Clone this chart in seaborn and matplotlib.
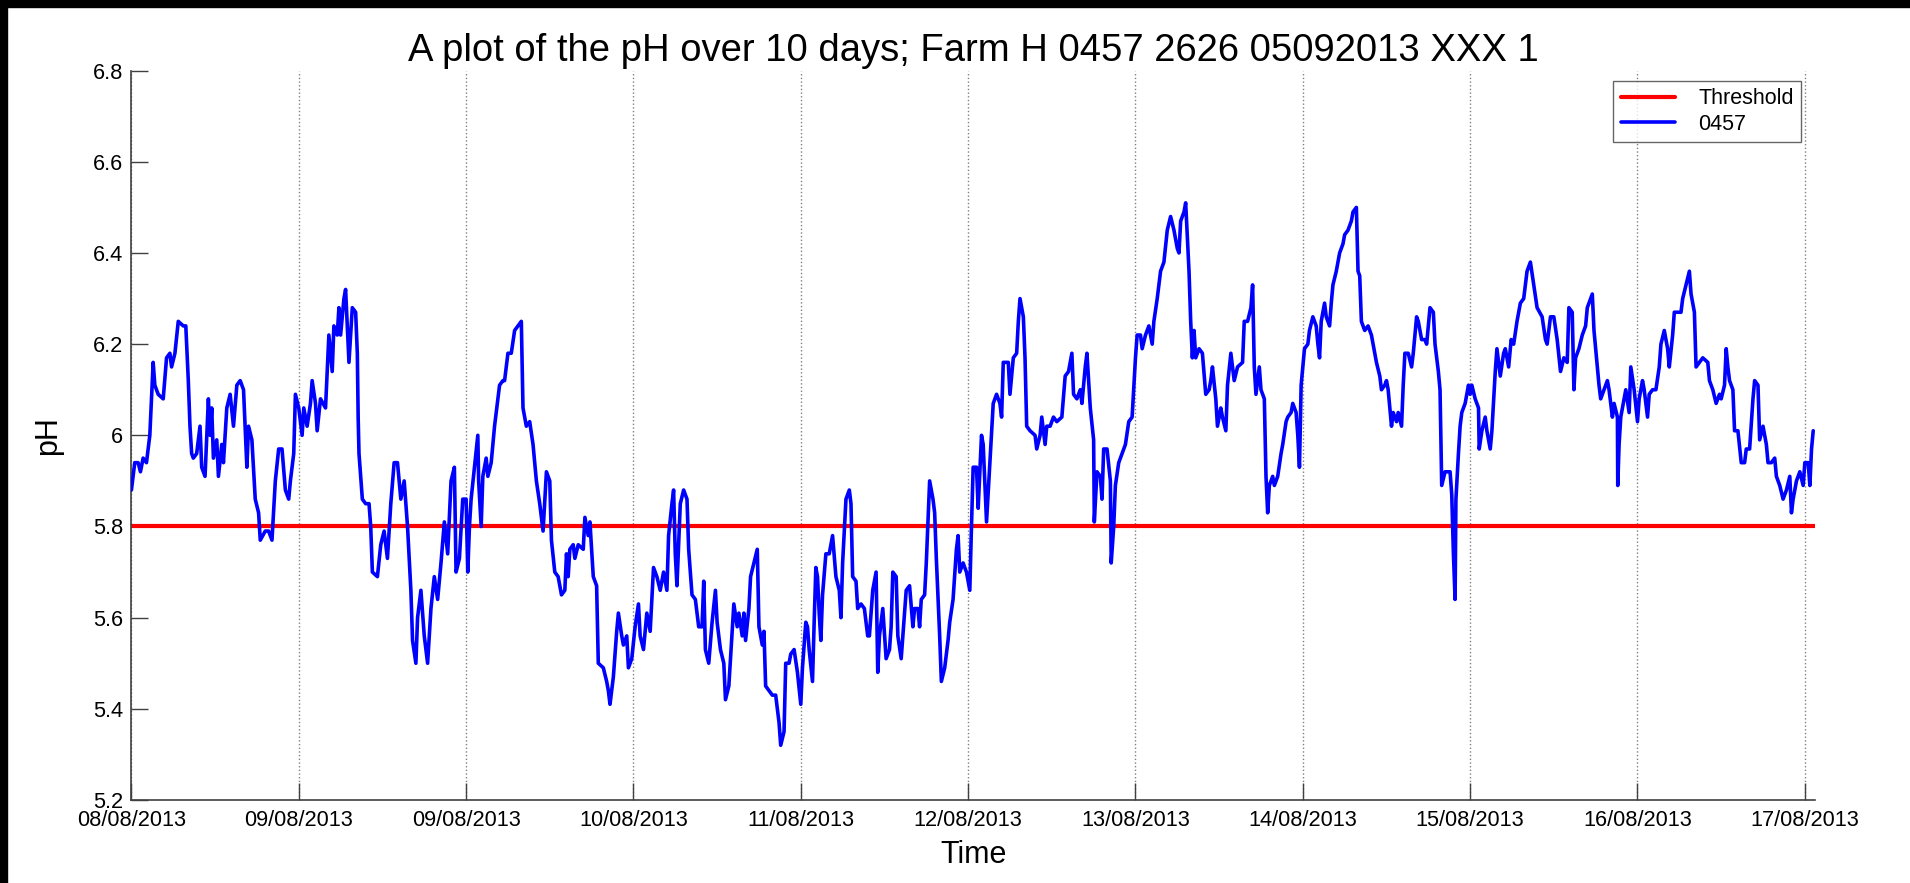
import numpy as np
import pandas as pd
import matplotlib
matplotlib.use("Agg")
import matplotlib.pyplot as plt
import seaborn as sns

# ==========================================================
# data (days since start, pH)
# ==========================================================

seg_1 = [(0.00, 5.88), (0.02, 5.94), (0.04, 5.94), (0.054, 5.92), (0.07, 5.95), (0.09, 5.94),
         (0.11, 6.00), (0.13, 6.16), (0.14, 6.11), (0.16, 6.09), (0.19, 6.08), (0.21, 6.17),
         (0.23, 6.18), (0.24, 6.15), (0.26, 6.18), (0.28, 6.25), (0.31, 6.24), (0.325, 6.24),
         (0.34, 6.12), (0.35, 6.02), (0.36, 5.96), (0.37, 5.95), (0.39, 5.96), (0.41, 6.02),
         (0.42, 5.93), (0.44, 5.91), (0.46, 6.08), (0.47, 6.00), (0.48, 6.06), (0.49, 5.95),
         (0.51, 5.99), (0.52, 5.91), (0.54, 5.98), (0.55, 5.94), (0.57, 6.06), (0.59, 6.09),
         (0.61, 6.02), (0.63, 6.11), (0.65, 6.12), (0.67, 6.10), (0.69, 5.93), (0.70, 6.02),
         (0.72, 5.99), (0.74, 5.86), (0.76, 5.83), (0.77, 5.77), (0.80, 5.79), (0.82, 5.79),
         (0.84, 5.77), (0.86, 5.90), (0.88, 5.97), (0.90, 5.97), (0.92, 5.88), (0.94, 5.86),
         (0.95, 5.90), (0.97, 5.96), (0.98, 6.09), (1.00, 6.06), (1.02, 6.00), (1.03, 6.06),
         (1.05, 6.02), (1.07, 6.07), (1.08, 6.12), (1.10, 6.07), (1.11, 6.01), (1.13, 6.08),
         (1.16, 6.06), (1.17, 6.14), (1.18, 6.22), (1.20, 6.14), (1.21, 6.24), (1.23, 6.22),
         (1.24, 6.28), (1.25, 6.22), (1.27, 6.30), (1.28, 6.32), (1.30, 6.16), (1.32, 6.28),
         (1.34, 6.27), (1.35, 6.18), (1.355, 6.04), (1.36, 5.96), (1.38, 5.86), (1.40, 5.85),
         (1.42, 5.85), (1.43, 5.80), (1.44, 5.70), (1.47, 5.69), (1.49, 5.76), (1.51, 5.79),
         (1.53, 5.73), (1.55, 5.85), (1.57, 5.94), (1.59, 5.94), (1.61, 5.86), (1.63, 5.90),
         (1.65, 5.80), (1.67, 5.66), (1.68, 5.55), (1.70, 5.50), (1.71, 5.60), (1.73, 5.66),
         (1.75, 5.56), (1.77, 5.50), (1.79, 5.62), (1.81, 5.69), (1.83, 5.64), (1.85, 5.72),
         (1.87, 5.81), (1.89, 5.74), (1.91, 5.90), (1.93, 5.93), (1.94, 5.70), (1.96, 5.73),
         (1.98, 5.86)]

seg_2 = [(2.00, 5.86), (2.01, 5.70), (2.02, 5.80), (2.03, 5.86), (2.05, 5.93), (2.07, 6.00),
         (2.075, 5.90), (2.09, 5.80), (2.10, 5.91), (2.12, 5.95), (2.13, 5.91), (2.15, 5.94),
         (2.17, 6.02), (2.18, 6.05), (2.20, 6.11), (2.22, 6.12), (2.23, 6.12), (2.25, 6.18),
         (2.27, 6.18), (2.29, 6.23), (2.31, 6.24), (2.33, 6.25), (2.34, 6.06), (2.36, 6.02),
         (2.38, 6.03), (2.40, 5.98), (2.42, 5.90), (2.44, 5.85), (2.46, 5.79), (2.48, 5.92),
         (2.50, 5.90), (2.51, 5.77), (2.53, 5.70), (2.55, 5.69), (2.57, 5.65), (2.59, 5.66),
         (2.60, 5.74), (2.61, 5.69), (2.62, 5.75), (2.64, 5.76), (2.65, 5.73), (2.67, 5.76),
         (2.70, 5.75), (2.71, 5.82), (2.73, 5.78), (2.74, 5.81), (2.76, 5.69), (2.78, 5.67),
         (2.79, 5.50), (2.82, 5.49), (2.84, 5.46), (2.85, 5.44), (2.86, 5.41), (2.88, 5.47),
         (2.90, 5.57), (2.91, 5.61), (2.93, 5.56), (2.94, 5.54), (2.96, 5.56), (2.97, 5.49),
         (2.99, 5.51), (3.01, 5.58), (3.03, 5.63), (3.04, 5.56), (3.06, 5.53), (3.08, 5.61),
         (3.10, 5.57), (3.12, 5.71), (3.14, 5.69), (3.16, 5.66), (3.18, 5.70), (3.20, 5.66),
         (3.21, 5.78), (3.23, 5.85), (3.24, 5.88), (3.25, 5.74), (3.26, 5.67), (3.28, 5.85),
         (3.30, 5.88), (3.32, 5.86), (3.33, 5.75), (3.35, 5.65), (3.37, 5.64), (3.39, 5.58),
         (3.41, 5.58), (3.42, 5.68), (3.43, 5.53), (3.45, 5.50), (3.47, 5.59), (3.49, 5.66),
         (3.50, 5.59), (3.52, 5.53), (3.54, 5.50), (3.55, 5.42), (3.57, 5.45), (3.58, 5.51),
         (3.60, 5.63), (3.62, 5.58), (3.63, 5.61), (3.65, 5.56), (3.66, 5.61), (3.67, 5.55),
         (3.69, 5.62), (3.70, 5.69), (3.72, 5.72), (3.74, 5.75), (3.75, 5.58), (3.77, 5.54),
         (3.78, 5.57), (3.79, 5.45), (3.81, 5.44), (3.83, 5.43), (3.85, 5.43), (3.87, 5.37),
         (3.88, 5.32), (3.90, 5.35), (3.91, 5.50), (3.93, 5.50), (3.94, 5.52), (3.96, 5.53),
         (3.98, 5.48), (4.00, 5.41)]

seg_3 = [(4.01, 5.49), (4.03, 5.59), (4.04, 5.58), (4.05, 5.53), (4.07, 5.46), (4.08, 5.59),
         (4.09, 5.71), (4.10, 5.69), (4.11, 5.61), (4.12, 5.55), (4.13, 5.65), (4.15, 5.74),
         (4.17, 5.74), (4.19, 5.78), (4.21, 5.69), (4.23, 5.66), (4.24, 5.60), (4.25, 5.72),
         (4.27, 5.86), (4.29, 5.88), (4.30, 5.85), (4.31, 5.69), (4.33, 5.68), (4.34, 5.62),
         (4.36, 5.63), (4.38, 5.62), (4.40, 5.56), (4.41, 5.56), (4.43, 5.66), (4.45, 5.70),
         (4.46, 5.48), (4.47, 5.56), (4.49, 5.62), (4.51, 5.51), (4.53, 5.53), (4.54, 5.58),
         (4.55, 5.70), (4.57, 5.69), (4.58, 5.56), (4.60, 5.51), (4.61, 5.56), (4.63, 5.66),
         (4.65, 5.67), (4.67, 5.58), (4.68, 5.62), (4.70, 5.62), (4.71, 5.58), (4.72, 5.64),
         (4.74, 5.65), (4.75, 5.72), (4.77, 5.90), (4.79, 5.86), (4.80, 5.83), (4.81, 5.73),
         (4.83, 5.56), (4.84, 5.46), (4.86, 5.49), (4.88, 5.55), (4.89, 5.59), (4.91, 5.64),
         (4.93, 5.75), (4.94, 5.78), (4.95, 5.70), (4.97, 5.72), (4.99, 5.70), (5.01, 5.66),
         (5.02, 5.80), (5.03, 5.93), (5.05, 5.93), (5.06, 5.84), (5.08, 6.00), (5.09, 5.98),
         (5.11, 5.81), (5.13, 5.94), (5.15, 6.07), (5.17, 6.09), (5.19, 6.07), (5.20, 6.04),
         (5.21, 6.16), (5.24, 6.16), (5.25, 6.09), (5.27, 6.17), (5.29, 6.18), (5.30, 6.25),
         (5.31, 6.30), (5.33, 6.26), (5.34, 6.17), (5.35, 6.02), (5.37, 6.01), (5.40, 6.00),
         (5.41, 5.97), (5.43, 6.00), (5.44, 6.04), (5.46, 5.98), (5.47, 6.02), (5.49, 6.02),
         (5.51, 6.04), (5.53, 6.03), (5.56, 6.04), (5.58, 6.13), (5.60, 6.14), (5.62, 6.18),
         (5.63, 6.09), (5.65, 6.08), (5.67, 6.10), (5.68, 6.07), (5.70, 6.15), (5.71, 6.18),
         (5.73, 6.06), (5.75, 5.99), (5.754, 5.81), (5.77, 5.92), (5.79, 5.91), (5.80, 5.86),
         (5.81, 5.97), (5.83, 5.97), (5.85, 5.90), (5.855, 5.72), (5.87, 5.80), (5.88, 5.89),
         (5.90, 5.94), (5.92, 5.96), (5.94, 5.98), (5.96, 6.03), (5.98, 6.04), (6.00, 6.17),
         (6.01, 6.22), (6.03, 6.22)]

seg_4 = [(6.04, 6.19), (6.06, 6.22), (6.08, 6.24), (6.10, 6.20), (6.11, 6.25), (6.13, 6.30),
         (6.15, 6.36), (6.17, 6.38), (6.19, 6.45), (6.21, 6.48), (6.23, 6.45), (6.25, 6.41),
         (6.26, 6.40), (6.27, 6.47), (6.29, 6.49), (6.30, 6.51), (6.32, 6.36), (6.33, 6.25),
         (6.34, 6.17), (6.35, 6.23), (6.36, 6.17), (6.38, 6.19), (6.40, 6.18), (6.42, 6.09),
         (6.44, 6.10), (6.45, 6.12), (6.46, 6.15), (6.48, 6.08), (6.49, 6.02), (6.51, 6.06),
         (6.52, 6.04), (6.54, 6.01), (6.55, 6.11), (6.57, 6.18), (6.59, 6.12), (6.61, 6.15),
         (6.64, 6.16), (6.65, 6.25), (6.67, 6.25), (6.69, 6.28), (6.70, 6.33), (6.71, 6.15),
         (6.72, 6.09), (6.74, 6.15), (6.75, 6.10), (6.77, 6.08), (6.78, 5.91), (6.79, 5.83),
         (6.80, 5.89), (6.82, 5.91), (6.83, 5.89), (6.85, 5.91), (6.87, 5.96), (6.88, 5.98),
         (6.90, 6.03), (6.91, 6.04), (6.93, 6.05), (6.94, 6.07), (6.96, 6.05), (6.97, 6.00),
         (6.98, 5.93), (6.99, 6.11), (7.01, 6.19), (7.03, 6.20), (7.04, 6.23), (7.06, 6.26),
         (7.08, 6.24), (7.09, 6.20), (7.10, 6.17), (7.11, 6.25), (7.13, 6.29), (7.14, 6.26),
         (7.16, 6.24), (7.17, 6.29), (7.18, 6.33), (7.20, 6.36), (7.22, 6.40), (7.24, 6.42),
         (7.25, 6.44), (7.27, 6.45), (7.29, 6.47), (7.30, 6.49), (7.32, 6.50), (7.33, 6.36),
         (7.34, 6.35), (7.35, 6.25), (7.37, 6.23), (7.39, 6.24), (7.41, 6.22), (7.42, 6.20),
         (7.44, 6.16), (7.46, 6.13), (7.47, 6.10), (7.49, 6.11), (7.50, 6.12), (7.51, 6.10),
         (7.53, 6.02), (7.54, 6.05), (7.56, 6.03), (7.57, 6.05), (7.59, 6.02), (7.60, 6.11),
         (7.61, 6.18), (7.63, 6.18), (7.65, 6.15), (7.66, 6.18), (7.68, 6.26), (7.69, 6.25),
         (7.71, 6.21), (7.73, 6.21), (7.74, 6.20), (7.76, 6.28), (7.78, 6.27), (7.79, 6.20),
         (7.81, 6.14), (7.82, 6.10), (7.83, 5.89), (7.85, 5.92), (7.86, 5.92), (7.88, 5.92),
         (7.89, 5.87), (7.90, 5.74), (7.91, 5.64), (7.915, 5.86), (7.93, 5.96), (7.94, 6.02),
         (7.95, 6.05), (7.97, 6.07), (7.99, 6.11), (8.00, 6.09)]

seg_5 = [(8.01, 6.11), (8.03, 6.08), (8.05, 6.06), (8.054, 5.97), (8.07, 6.01), (8.09, 6.04),
         (8.10, 6.01), (8.12, 5.97), (8.13, 6.01), (8.15, 6.14), (8.16, 6.19), (8.18, 6.13),
         (8.20, 6.18), (8.21, 6.19), (8.23, 6.15), (8.245, 6.21), (8.26, 6.20), (8.28, 6.25),
         (8.30, 6.29), (8.32, 6.30), (8.34, 6.36), (8.36, 6.38), (8.38, 6.33), (8.40, 6.28),
         (8.43, 6.26), (8.45, 6.21), (8.46, 6.20), (8.48, 6.26), (8.50, 6.26), (8.52, 6.21),
         (8.54, 6.14), (8.56, 6.17), (8.58, 6.16), (8.59, 6.28), (8.61, 6.27), (8.62, 6.10),
         (8.63, 6.17), (8.65, 6.19), (8.67, 6.22), (8.69, 6.24), (8.70, 6.28), (8.73, 6.31),
         (8.74, 6.23), (8.76, 6.15), (8.77, 6.11), (8.78, 6.08), (8.80, 6.10), (8.82, 6.12),
         (8.83, 6.10), (8.85, 6.04), (8.86, 6.07), (8.88, 6.04), (8.882, 5.89), (8.89, 5.98),
         (8.90, 6.04), (8.92, 6.08), (8.93, 6.10), (8.95, 6.05), (8.96, 6.15), (8.98, 6.10),
         (9.00, 6.03), (9.01, 6.08), (9.03, 6.12), (9.04, 6.10), (9.06, 6.04), (9.07, 6.09),
         (9.09, 6.10), (9.11, 6.10), (9.13, 6.15), (9.14, 6.20), (9.16, 6.23), (9.18, 6.19),
         (9.19, 6.15), (9.21, 6.22), (9.22, 6.27), (9.24, 6.27), (9.26, 6.27), (9.27, 6.30),
         (9.29, 6.33), (9.31, 6.36), (9.32, 6.31), (9.34, 6.27), (9.35, 6.15), (9.37, 6.16),
         (9.39, 6.17), (9.42, 6.16), (9.43, 6.12), (9.45, 6.10), (9.47, 6.07), (9.49, 6.09),
         (9.50, 6.08), (9.52, 6.11), (9.53, 6.19), (9.54, 6.15), (9.55, 6.12), (9.57, 6.10),
         (9.58, 6.01), (9.60, 6.01), (9.62, 5.94), (9.64, 5.94), (9.65, 5.97), (9.67, 5.97),
         (9.69, 6.08), (9.70, 6.12), (9.72, 6.11), (9.73, 5.99), (9.75, 6.02), (9.77, 5.98),
         (9.78, 5.94), (9.80, 5.94), (9.82, 5.95), (9.83, 5.91), (9.85, 5.89), (9.87, 5.86),
         (9.89, 5.88), (9.91, 5.91), (9.92, 5.83), (9.93, 5.86), (9.95, 5.90), (9.97, 5.92),
         (9.99, 5.89), (10.00, 5.94), (10.02, 5.94), (10.03, 5.89), (10.04, 5.97), (10.05, 6.01)]

threshold = 5.8

x_tick_labels = ["08/08/2013", "09/08/2013", "09/08/2013", "10/08/2013", "11/08/2013",
                 "12/08/2013", "13/08/2013", "14/08/2013", "15/08/2013", "16/08/2013",
                 "17/08/2013"]
y_ticks = [5.2, 5.4, 5.6, 5.8, 6.0, 6.2, 6.4, 6.6, 6.8]
y_tick_labels = ["5.2", "5.4", "5.6", "5.8", "6", "6.2", "6.4", "6.6", "6.8"]

df = pd.DataFrame(seg_1 + seg_2 + seg_3 + seg_4 + seg_5, columns=["day", "pH"])

# ==========================================================
# plot
# ==========================================================

sns.set_style("white")
plt.rcParams["font.family"] = ["Liberation Sans", "DejaVu Sans"]
plt.rcParams["text.color"] = "black"
plt.rcParams["axes.labelcolor"] = "black"

fig = plt.figure(figsize=(19.1, 8.83), dpi=100)
ax = fig.add_axes([0.0688, 0.094, 0.8814, 0.826])

ax.axhline(threshold, color="#ff0000", linewidth=3.0, label="Threshold", zorder=2)

sns.lineplot(
    data=df,
    x="day",
    y="pH",
    color="#0000ff",
    linewidth=2.6,
    estimator=None,
    sort=False,
    label="0457",
    ax=ax,
    zorder=3
)

ax.set_xlim(0, 10.06)
ax.set_ylim(5.2, 6.8)

ax.set_xticks(range(len(x_tick_labels)))
ax.set_xticklabels(x_tick_labels)
ax.set_yticks(y_ticks)
ax.set_yticklabels(y_tick_labels)

ax.tick_params(direction="in", length=12, width=1, color="#404040",
               labelsize=15.7, labelcolor="black", bottom=True, left=True)
ax.tick_params(axis="x", pad=7)
ax.tick_params(axis="y", pad=6)

ax.grid(axis="x", linestyle=":", color="#808080", linewidth=1)
ax.set_axisbelow(True)

for side in ["top", "right"]:
    ax.spines[side].set_visible(False)
for side in ["left", "bottom"]:
    ax.spines[side].set_color("#404040")
    ax.spines[side].set_linewidth(1.2)

ax.set_title("A plot of the pH over 10 days; Farm H 0457 2626 05092013 XXX 1",
             fontsize=27.5, pad=7, color="black")
ax.set_xlabel("Time", fontsize=22, labelpad=7)
ax.set_ylabel("pH", fontsize=22, labelpad=21)

leg = ax.legend(loc="upper right", bbox_to_anchor=(0.992, 0.986), borderaxespad=0,
                fontsize=15.5, frameon=True, fancybox=False, handlelength=2.5,
                handletextpad=1.1, borderpad=0.35, labelspacing=0.2)
leg.get_frame().set_edgecolor("#404040")
leg.get_frame().set_linewidth(1.0)

# black strips along the top and left edge, as in the exported figure
fig.add_artist(plt.Rectangle((0, 1 - 7 / 883), 1, 7 / 883, transform=fig.transFigure,
                             color="black", zorder=10))
fig.add_artist(plt.Rectangle((0, 0), 7 / 1910, 1, transform=fig.transFigure,
                             color="black", zorder=10))

fig.savefig("out.png", dpi=100, facecolor="white")
